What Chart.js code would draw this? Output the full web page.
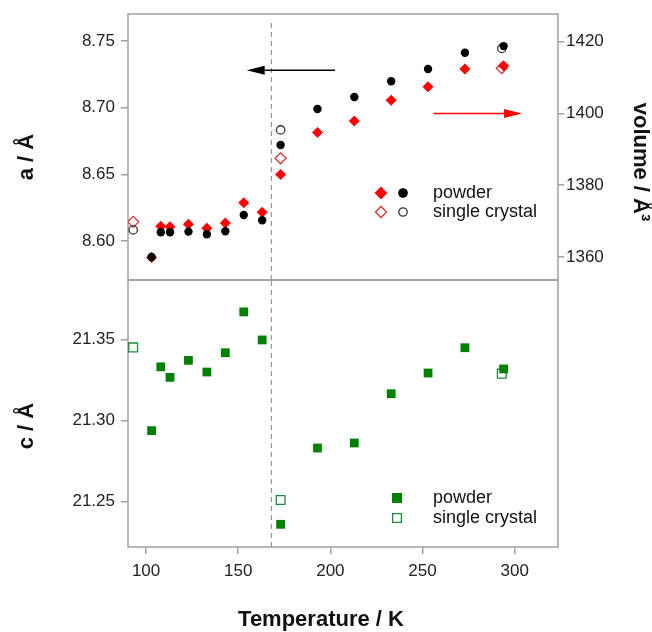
<!DOCTYPE html>
<html lang="en">
<head>
<meta charset="UTF-8">
<title>Lattice parameters vs temperature</title>
<script src="https://cdn.jsdelivr.net/npm/chart.js"></script>
<style>
  body { margin: 0; background: #fff; }
  #wrap { position: relative; width: 652px; height: 632px; }
  canvas { position: absolute; left: 0; }
  #topChart { top: 0; }
  #bottomChart { top: 270px; }
</style>
</head>
<body>
<div id="wrap">
  <canvas id="topChart" width="652" height="290"></canvas>
  <canvas id="bottomChart" width="652" height="362"></canvas>
</div>
<script>
// powder measurements
const powderT = [103, 108, 113, 123, 133, 143, 153, 163, 173, 193, 213, 233, 253, 273, 294];
const powderA = [8.588, 8.6065, 8.6065, 8.607, 8.605, 8.6073, 8.6195, 8.6155, 8.672, 8.699, 8.708, 8.7198, 8.729, 8.7412, 8.7462];
const powderV = [1359.9, 1368.6, 1368.4, 1369.1, 1368.0, 1369.5, 1375.1, 1372.5, 1383.0, 1394.7, 1397.9, 1403.7, 1407.4, 1412.4, 1413.3];
const powderC = [21.2936, 21.333, 21.3265, 21.337, 21.3298, 21.3417, 21.3669, 21.3496, 21.2358, 21.2829, 21.286, 21.3164, 21.3292, 21.3448, 21.3317];

// single crystal measurements
const crystalT = [93, 173, 293];
const crystalA = [8.6083, 8.6833, 8.7445];
const crystalV = [1369.8, 1387.5, 1412.6];
const crystalC = [21.345, 21.2508, 21.3288];

const tempTicks = [100, 150, 200, 250, 300];
const aTicks = [8.60, 8.65, 8.70, 8.75];
const volTicks = [1360, 1380, 1400, 1420];
const cTicks = [21.25, 21.30, 21.35];

const transitionT = 168;
const leftArrow = [[202.5, 8.728], [154.6, 8.728]];
const rightArrow = [[256, 1400], [304, 1400]];

const FONT = "'Liberation Sans', Arial, sans-serif";
const GREY = '#a0a0a0';
const T_MIN = 90.2, T_MAX = 323.5;

function pts(xs, ys) {
  return xs.map((x, i) => ({ x: x, y: ys[i] }));
}

function fixTicks(values) {
  return scale => { scale.ticks = values.map(v => ({ value: v })); };
}

// no extra room for half-height tick labels at the panel edges
function noLabelPadding(s) {
  s.paddingTop = 0; s.paddingBottom = 0; s.paddingLeft = 0; s.paddingRight = 0;
}

function yScale(pos, min, max, ticks, width, digits) {
  return {
    type: 'linear', position: pos, min: min, max: max,
    afterBuildTicks: fixTicks(ticks),
    afterFit: s => { s.width = width; noLabelPadding(s); },
    border: { display: false },
    grid: { drawOnChartArea: false, color: GREY, lineWidth: 1.5, tickLength: pos === 'left' ? 7 : 6 },
    ticks: {
      color: '#222', padding: pos === 'left' ? 6 : 2,
      font: { family: FONT, size: 17 },
      callback: v => v.toFixed(digits)
    }
  };
}

function text(ctx, str, x, y, angle, font, align) {
  ctx.save();
  ctx.translate(x, y);
  ctx.rotate(angle);
  ctx.font = font;
  ctx.fillStyle = '#111';
  ctx.textAlign = align || 'center';
  ctx.textBaseline = 'middle';
  ctx.fillText(str, 0, 0);
  ctx.restore();
}

function arrow(ctx, x0, y0, x1, y1, color) {
  const dir = Math.sign(x1 - x0), head = 18, half = 4.5;
  ctx.save();
  ctx.strokeStyle = color; ctx.fillStyle = color; ctx.lineWidth = 1.5;
  ctx.beginPath(); ctx.moveTo(x0, y0); ctx.lineTo(x1 - dir * head, y1); ctx.stroke();
  ctx.beginPath();
  ctx.moveTo(x1, y1);
  ctx.lineTo(x1 - dir * head, y1 - half);
  ctx.lineTo(x1 - dir * head, y1 + half);
  ctx.closePath(); ctx.fill();
  ctx.restore();
}

function marker(ctx, style, radius, x, y, fill, stroke) {
  ctx.save();
  ctx.fillStyle = fill; ctx.strokeStyle = stroke; ctx.lineWidth = 1.3;
  Chart.helpers.drawPoint(ctx, { pointStyle: style, radius: radius, rotation: 0, borderWidth: 1.3 }, x, y);
  ctx.restore();
}

const frame = {
  id: 'frame',
  beforeDatasetsDraw(chart) {
    const a = chart.chartArea, ctx = chart.ctx;
    ctx.save();
    ctx.strokeStyle = GREY; ctx.lineWidth = 1.5;
    ctx.strokeRect(a.left, a.top, a.right - a.left, a.bottom - a.top);
    ctx.restore();
  }
};

const bold = "bold 22px " + FONT;
const legendFont = "18px " + FONT;
const clear = 'rgba(0,0,0,0)';

const topDecor = {
  id: 'topDecor',
  afterDraw(chart) {
    const ctx = chart.ctx, x = chart.scales.x, ya = chart.scales.yA, yv = chart.scales.yV;
    arrow(ctx, x.getPixelForValue(leftArrow[0][0]), ya.getPixelForValue(leftArrow[0][1]),
      x.getPixelForValue(leftArrow[1][0]), ya.getPixelForValue(leftArrow[1][1]), '#000');
    arrow(ctx, x.getPixelForValue(rightArrow[0][0]), yv.getPixelForValue(rightArrow[0][1]),
      x.getPixelForValue(rightArrow[1][0]), yv.getPixelForValue(rightArrow[1][1]), '#ff0000');

    text(ctx, 'a / Å', 27, 157, -Math.PI / 2, bold);
    text(ctx, 'volume / Å³', 640, 162, Math.PI / 2, bold);

    marker(ctx, 'rectRot', 5.5, 381, 193, '#ff0000', '#ff0000');
    marker(ctx, 'circle', 4.2, 403, 193, '#000', '#000');
    marker(ctx, 'rectRot', 5.5, 381, 212, '#fff', '#e03030');
    marker(ctx, 'circle', 4.2, 403, 212, '#fff', '#333');
    text(ctx, 'powder', 433, 193, 0, legendFont, 'left');
    text(ctx, 'single crystal', 433, 212, 0, legendFont, 'left');
  }
};

const bottomDecor = {
  id: 'bottomDecor',
  afterDraw(chart) {
    const ctx = chart.ctx;
    text(ctx, 'c / Å', 27, 156, -Math.PI / 2, bold);
    text(ctx, 'Temperature / K', 321, 350, 0, bold);

    marker(ctx, 'rect', 6.2, 397, 228, '#008000', '#008000');
    marker(ctx, 'rect', 6.2, 397, 248, '#fff', '#1a8a3a');
    text(ctx, 'powder', 433, 228, 0, legendFont, 'left');
    text(ctx, 'single crystal', 433, 248, 0, legendFont, 'left');
  }
};

const xHidden = { type: 'linear', min: T_MIN, max: T_MAX, display: false };

const dashed = {
  type: 'line', pointRadius: 0, borderColor: '#999', borderWidth: 1.2,
  borderDash: [5, 4], fill: false
};

new Chart(document.getElementById('topChart'), {
  type: 'scatter',
  data: {
    datasets: [
      { data: pts(powderT, powderA), yAxisID: 'yA', pointStyle: 'circle', pointRadius: 4.2,
        backgroundColor: '#000', borderColor: '#000', borderWidth: 0 },
      { data: pts(crystalT, crystalA), yAxisID: 'yA', pointStyle: 'circle', pointRadius: 4.2,
        backgroundColor: clear, borderColor: '#333', borderWidth: 1.3 },
      { data: pts(powderT, powderV), yAxisID: 'yV', pointStyle: 'rectRot', pointRadius: 5.5,
        backgroundColor: '#ff0000', borderColor: '#ff0000', borderWidth: 0 },
      { data: pts(crystalT, crystalV), yAxisID: 'yV', pointStyle: 'rectRot', pointRadius: 5.5,
        backgroundColor: clear, borderColor: '#e03030', borderWidth: 1.3 },
      Object.assign({ data: [{ x: transitionT, y: 8.5707 }, { x: transitionT, y: 8.7635 }], yAxisID: 'yA' }, dashed)
    ]
  },
  options: {
    responsive: false, animation: false, devicePixelRatio: 1,
    layout: { padding: { top: 14, bottom: 10, left: 0, right: 0 } },
    plugins: { legend: { display: false }, tooltip: { enabled: false } },
    scales: {
      x: xHidden,
      yA: yScale('left', 8.5707, 8.7703, aTicks, 128, 2),
      yV: yScale('right', 1353.6, 1427.7, volTicks, 94, 0)
    }
  },
  plugins: [frame, topDecor]
});

new Chart(document.getElementById('bottomChart'), {
  type: 'scatter',
  data: {
    datasets: [
      { data: pts(powderT, powderC), yAxisID: 'yC', pointStyle: 'rect', pointRadius: 6.2,
        backgroundColor: '#008000', borderColor: '#008000', borderWidth: 0 },
      { data: pts(crystalT, crystalC), yAxisID: 'yC', pointStyle: 'rect', pointRadius: 6.2,
        backgroundColor: clear, borderColor: '#1a8a3a', borderWidth: 1.3 },
      Object.assign({ data: [{ x: transitionT, y: 21.2218 }, { x: transitionT, y: 21.3866 }], yAxisID: 'yC' }, dashed)
    ]
  },
  options: {
    responsive: false, animation: false, devicePixelRatio: 1,
    layout: { padding: { top: 10, bottom: 0, left: 0, right: 94 } },
    plugins: { legend: { display: false }, tooltip: { enabled: false } },
    scales: {
      x: {
        type: 'linear', min: T_MIN, max: T_MAX,
        afterBuildTicks: fixTicks(tempTicks),
        afterFit: s => { s.height = 85; noLabelPadding(s); },
        border: { display: false },
        grid: { drawOnChartArea: false, color: GREY, lineWidth: 1.5, tickLength: 7 },
        ticks: { color: '#222', padding: 7, font: { family: FONT, size: 17 }, callback: v => String(v) }
      },
      yC: yScale('left', 21.2218, 21.3866, cTicks, 128, 2)
    }
  },
  plugins: [frame, bottomDecor]
});
</script>
</body>
</html>
